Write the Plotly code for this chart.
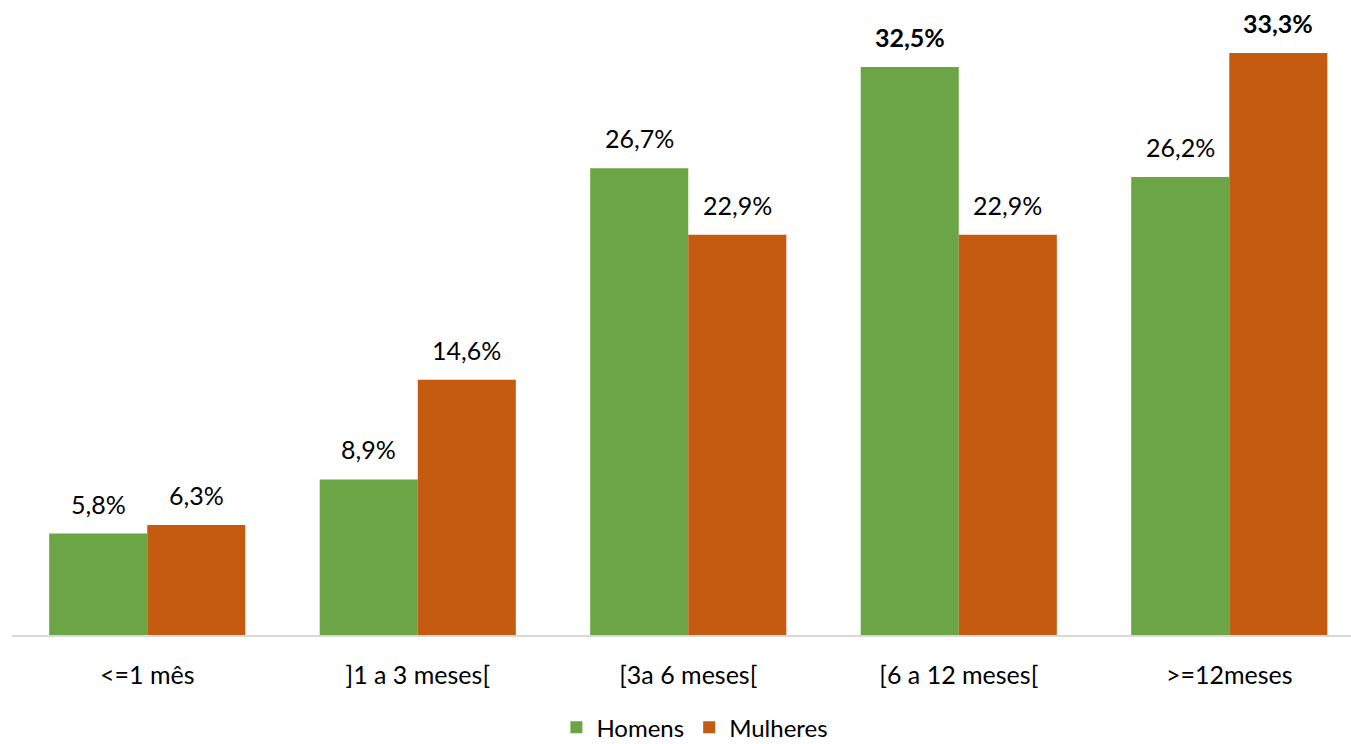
import plotly.graph_objects as go

categories = ["<=1 mês", "]1 a 3 meses[", "[3a 6 meses[", "[6 a 12 meses[", ">=12meses"]
homens = [5.8, 8.9, 26.7, 32.5, 26.2]
mulheres = [6.3, 14.6, 22.9, 22.9, 33.3]
# group maxima are shown in bold
homens_bold = [False, False, False, True, False]
mulheres_bold = [False, False, False, False, True]

GREEN = "#6BA545"
ORANGE = "#C55A11"
FONT = "Lato, 'Open Sans', sans-serif"
FSIZE = 25
BARGAP = 0.275


def fmt(v, bold):
    s = f"{v:.1f}%".replace(".", ",")
    return f"<b>{s}</b>" if bold else s


fig = go.Figure()
fig.add_trace(go.Bar(name="Homens", x=categories, y=homens, marker_color=GREEN,
                     marker_line_width=0))
fig.add_trace(go.Bar(name="Mulheres", x=categories, y=mulheres, marker_color=ORANGE,
                     marker_line_width=0))

# value labels above each bar
offset = (1 - BARGAP) / 4
for series, bolds, dx in ((homens, homens_bold, -offset), (mulheres, mulheres_bold, offset)):
    for i, (v, b) in enumerate(zip(series, bolds)):
        fig.add_annotation(x=i + dx, y=v, xref="x", yref="y", text=fmt(v, b),
                           showarrow=False, yanchor="bottom", yshift=13,
                           font=dict(size=FSIZE, color="#000000", family=FONT))

fig.update_layout(
    width=1351, height=744,
    margin=dict(l=12, r=0, t=0, b=109, autoexpand=False),
    paper_bgcolor="white", plot_bgcolor="white",
    barmode="group", bargap=BARGAP, bargroupgap=0,
    font=dict(family=FONT, size=FSIZE, color="#000000"),
    showlegend=True,
    legend=dict(orientation="h", x=0.51, xanchor="center", yref="container",
                y=0.022, yanchor="middle",
                font=dict(size=24, color="#000000", family=FONT),
                itemwidth=30, traceorder="normal"),
    xaxis=dict(range=[-0.5, 4.45], showline=True, linecolor="#D9D9D9", linewidth=2,
               ticks="", tickfont=dict(size=FSIZE, color="#000000", family=FONT),
               ticklabelstandoff=17, showgrid=False, fixedrange=True),
    yaxis=dict(range=[0, 36.33], visible=False, showgrid=False, zeroline=False,
               fixedrange=True),
)

fig.write_html("out.html")
